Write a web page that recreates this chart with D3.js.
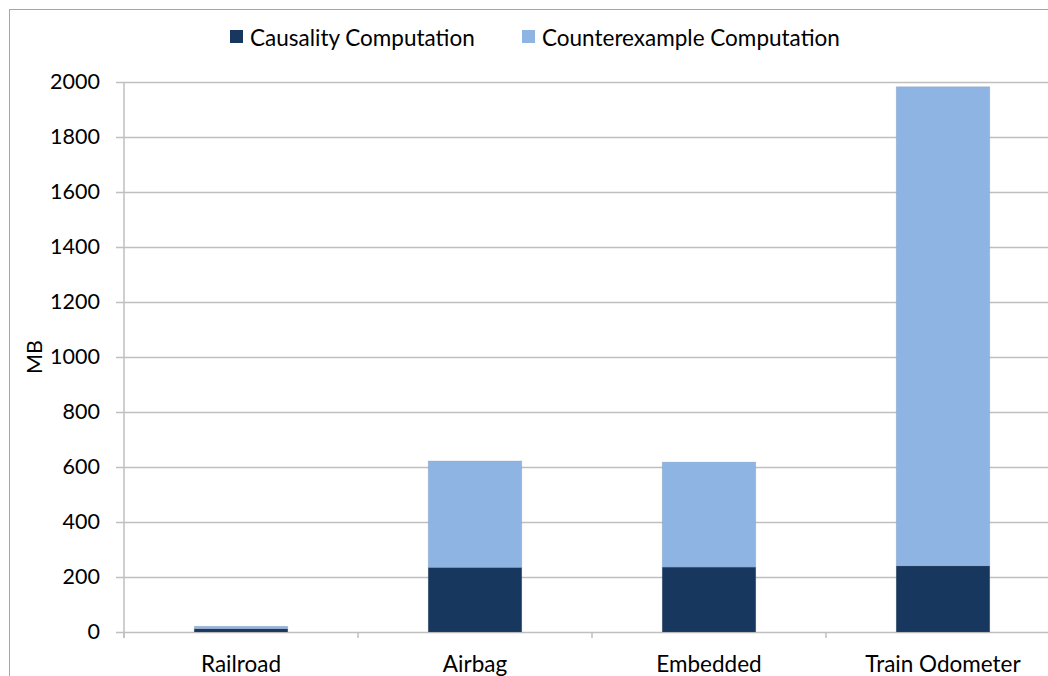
<!DOCTYPE html>
<html>
<head>
<meta charset="utf-8">
<script src="https://cdn.jsdelivr.net/npm/d3@7"></script>
<style>
  html, body { margin: 0; padding: 0; background: #fff; }
  svg { display: block; font-family: Lato, "Open Sans", sans-serif; }
</style>
</head>
<body>
<svg id="chart" width="1048" height="676"></svg>
<script>
// Memory use per benchmark, split by computation phase
const categories = ["Railroad", "Airbag", "Embedded", "Train Odometer"];
const causality = [12, 235, 236, 240];
const counterexample = [9, 387, 382, 1743];
const seriesNames = ["Causality Computation", "Counterexample Computation"];
const seriesColors = ["#17375E", "#8EB4E3"];
const yTicks = [0, 200, 400, 600, 800, 1000, 1200, 1400, 1600, 1800, 2000];

const svg = d3.select("#chart");

// Outer chart frame
svg.append("rect")
  .attr("x", 9.5).attr("y", 9.5)
  .attr("width", 1100).attr("height", 700)
  .attr("fill", "#fff").attr("stroke", "#a6a6a6").attr("stroke-width", 1);

const plot = { left: 124, right: 1060, top: 82, bottom: 632 };

const x = d3.scaleBand()
  .domain(categories)
  .range([plot.left, plot.right])
  .paddingInner(0.6).paddingOuter(0.3);

const y = d3.scaleLinear()
  .domain([0, 2000])
  .range([plot.bottom, plot.top]);

// Horizontal gridlines with short ticks left of the axis
const yAxis = d3.axisLeft(y).tickValues(yTicks).tickFormat(d3.format("d"))
  .tickSize(-(plot.right - plot.left)).tickSizeOuter(0).tickPadding(24);
const gy = svg.append("g")
  .attr("transform", `translate(${plot.left},0)`)
  .call(yAxis);
gy.select(".domain").remove();
gy.selectAll(".tick line")
  .attr("x1", -8)
  .attr("stroke", "#bfbfbf").attr("stroke-width", 1.5);
gy.selectAll(".tick text")
  .attr("font-size", 21.5).attr("fill", "#000")
  .attr("font-family", "Lato, sans-serif");

// Stacked bars
const stackData = categories.map((c, i) => ({
  cat: c, causality: causality[i], counterexample: counterexample[i]
}));
const stack = d3.stack().keys(["causality", "counterexample"])(stackData);

svg.append("g").selectAll("g")
  .data(stack)
  .join("g")
  .attr("fill", (d, i) => seriesColors[i])
  .selectAll("rect")
  .data(d => d)
  .join("rect")
  .attr("x", d => x(d.data.cat))
  .attr("width", x.bandwidth())
  .attr("y", d => y(d[1]))
  .attr("height", d => y(d[0]) - y(d[1]))
  .attr("stroke", "rgba(120,120,120,0.15)").attr("stroke-width", 1);

// Vertical axis line
svg.append("line")
  .attr("x1", plot.left).attr("x2", plot.left)
  .attr("y1", plot.top).attr("y2", plot.bottom + 6)
  .attr("stroke", "#bfbfbf").attr("stroke-width", 1.5);

// Category boundary ticks below the baseline
const step = x.step();
const bounds = d3.range(categories.length + 1).map(i => plot.left + i * step);
svg.append("g").selectAll("line")
  .data(bounds)
  .join("line")
  .attr("x1", d => d).attr("x2", d => d)
  .attr("y1", plot.bottom).attr("y2", plot.bottom + 6)
  .attr("stroke", "#bfbfbf").attr("stroke-width", 1.5);

// Category labels
svg.append("g").selectAll("text")
  .data(categories)
  .join("text")
  .attr("x", d => x(d) + x.bandwidth() / 2)
  .attr("y", 672)
  .attr("text-anchor", "middle")
  .attr("font-size", 22.5)
  .text(d => d);

// Axis title
svg.append("text")
  .attr("transform", `translate(42,357) rotate(-90)`)
  .attr("text-anchor", "middle")
  .attr("font-size", 21.5)
  .text("MB");

// Legend
const legendX = [230, 522];
const lg = svg.append("g").selectAll("g")
  .data(seriesNames)
  .join("g")
  .attr("transform", (d, i) => `translate(${legendX[i]},30)`);
lg.append("rect")
  .attr("width", 13).attr("height", 13)
  .attr("fill", (d, i) => seriesColors[i]);
lg.append("text")
  .attr("x", 20).attr("y", 16)
  .attr("font-size", 22.5)
  .text(d => d);
</script>
</body>
</html>
